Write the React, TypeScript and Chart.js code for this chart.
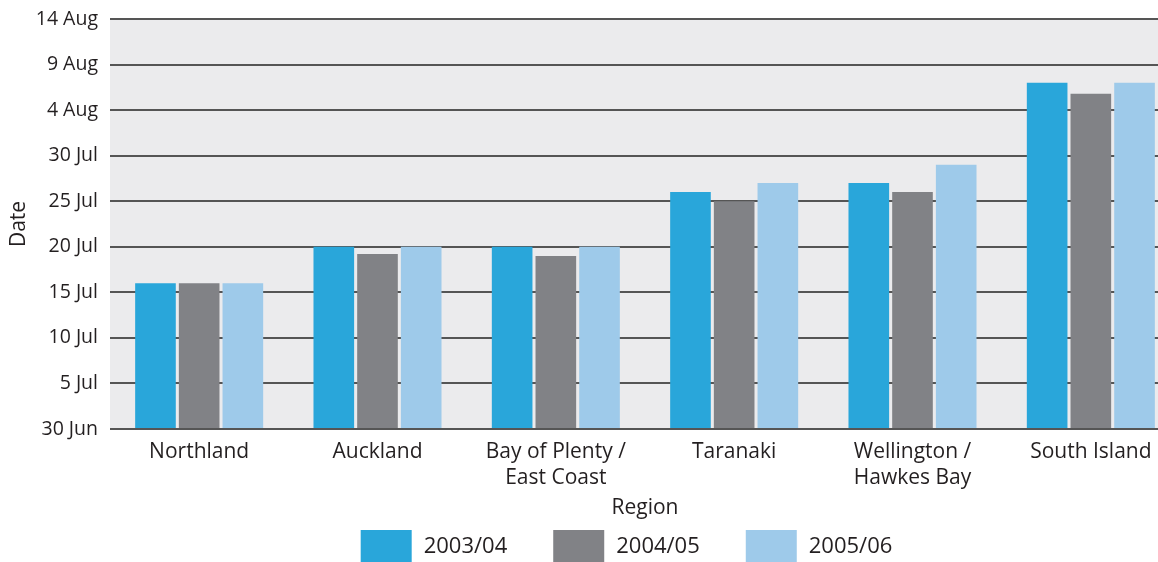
import React, { useEffect, useRef } from "react";
import { Chart, registerables } from "chart.js";

Chart.register(...registerables);

// Categories (x axis)
const regions: (string | string[])[] = [
  "Northland",
  "Auckland",
  ["Bay of Plenty /", "East Coast"],
  "Taranaki",
  ["Wellington /", "Hawkes Bay"],
  "South Island",
];

// Values: days after 30 June
const season200304 = [16, 20, 20, 26, 27, 38];
const season200405 = [16, 19.2, 19, 25, 26, 36.8];
const season200506 = [16, 20, 20, 27, 29, 38];

const seriesNames = ["2003/04", "2004/05", "2005/06"];
const seriesColors = ["#29a6da", "#818286", "#9ecaea"];

// Y tick labels (every 5 days from 30 June)
const dateTicks = [
  "30 Jun",
  "5 Jul",
  "10 Jul",
  "15 Jul",
  "20 Jul",
  "25 Jul",
  "30 Jul",
  "4 Aug",
  "9 Aug",
  "14 Aug",
];

const xTitle = "Region";
const yTitle = "Date";

const FONT = "'Open Sans', 'Noto Sans', sans-serif";
const TEXT = "#231f20";

export default function App() {
  const ref = useRef<HTMLCanvasElement | null>(null);

  useEffect(() => {
    if (!ref.current) return;

    const bgPlugin = {
      id: "plotBg",
      beforeDraw(chart: any) {
        const { ctx, chartArea } = chart;
        ctx.save();
        ctx.fillStyle = "#ebebed";
        ctx.fillRect(
          chartArea.left,
          chartArea.top,
          chartArea.right - chartArea.left,
          chartArea.bottom - chartArea.top
        );
        ctx.restore();
      },
    };

    // Legend drawn below the axis title, centred like the original
    const legendPlugin = {
      id: "bottomLegend",
      afterDraw(chart: any) {
        const { ctx } = chart;
        const boxW = 51;
        const boxH = 32;
        const textGap = 12;
        const itemGap = 46;
        const centreX = 626.5;
        const boxTop = 530;
        ctx.save();
        ctx.font = `22px ${FONT}`;
        const items = chart.data.datasets.map((ds: any) => ({
          label: ds.label,
          color: ds.backgroundColor,
          w: ctx.measureText(ds.label).width,
        }));
        const total =
          items.reduce((s: number, it: any) => s + boxW + textGap + it.w, 0) +
          itemGap * (items.length - 1);
        let x = centreX - total / 2;
        ctx.textAlign = "left";
        ctx.textBaseline = "middle";
        for (const it of items) {
          ctx.fillStyle = it.color;
          ctx.fillRect(x, boxTop, boxW, boxH);
          ctx.fillStyle = TEXT;
          ctx.fillText(it.label, x + boxW + textGap, boxTop + boxH / 2 + 1);
          x += boxW + textGap + it.w + itemGap;
        }
        ctx.restore();
      },
    };

    const seriesData = [season200304, season200405, season200506];

    const chart = new Chart(ref.current, {
      type: "bar",
      data: {
        labels: regions as any,
        datasets: seriesNames.map((name, i) => ({
          label: name,
          data: seriesData[i],
          backgroundColor: seriesColors[i],
          borderWidth: 0,
          categoryPercentage: 0.735,
          barPercentage: 0.93,
        })),
      },
      options: {
        responsive: false,
        animation: false,
        layout: { padding: { left: -30, right: 0, top: 19, bottom: 0 } },
        plugins: {
          legend: { display: false },
          tooltip: { enabled: false },
        },
        scales: {
          x: {
            grid: { display: false },
            border: { display: false },
            ticks: {
              color: TEXT,
              font: { family: FONT, size: 21, lineHeight: 1.24 },
              padding: 2,
              maxRotation: 0,
              autoSkip: false,
            },
            title: {
              display: true,
              text: xTitle,
              color: TEXT,
              font: { family: FONT, size: 21 },
              padding: { top: 0, bottom: 41 },
            },
            afterFit(scale: any) {
              scale.height = 133;
            },
          },
          y: {
            min: 0,
            max: 45,
            ticks: {
              stepSize: 5,
              padding: 12,
              color: TEXT,
              font: { family: FONT, size: 19.5 },
              callback: (_v: any, i: number) => dateTicks[i],
            },
            grid: { color: "#555", lineWidth: 2, drawTicks: false },
            border: { display: false },
            title: {
              display: true,
              text: yTitle,
              color: TEXT,
              font: { family: FONT, size: 21 },
              padding: { top: 36, bottom: 0 },
            },
            afterFit(scale: any) {
              scale.width = 140;
              scale.paddingTop = 0;
              scale.paddingBottom = 0;
            },
          },
        },
      } as any,
      plugins: [bgPlugin, legendPlugin],
    });

    return () => chart.destroy();
  }, []);

  return (
    <div
      style={{
        position: "fixed",
        left: 0,
        top: 0,
        width: 1158,
        height: 562,
        overflow: "hidden",
        background: "#fff",
      }}
    >
      <canvas
        ref={ref}
        width={1180}
        height={562}
        style={{ width: 1180, height: 562, display: "block" }}
      />
    </div>
  );
}
